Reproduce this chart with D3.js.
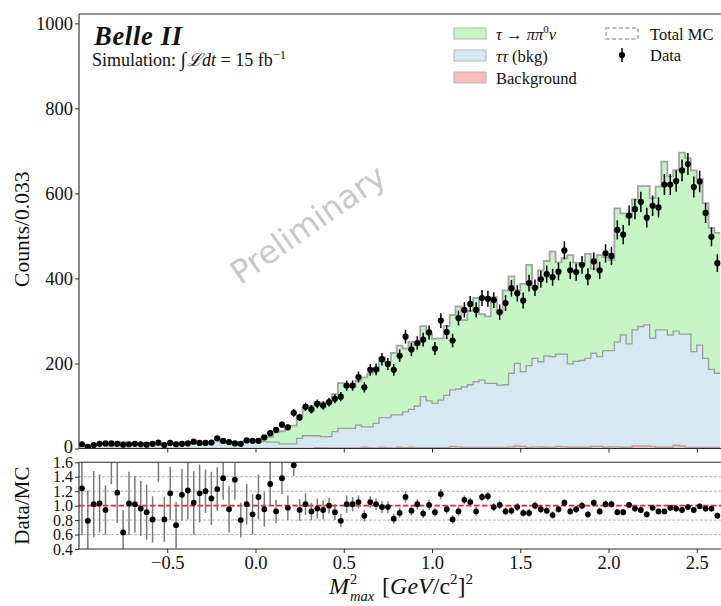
<!DOCTYPE html>
<html><head><meta charset="utf-8">
<script src="https://cdn.jsdelivr.net/npm/d3@7"></script>
<style>
body{margin:0;background:#fff}
svg{display:block}
text{font-family:"Liberation Serif","DejaVu Serif",serif;fill:#111}
</style>
</head><body>
<svg id="c" width="721" height="606"></svg>
<script>
// ---------------- data (one entry per bin of width 1/30, starting at -1.0) ----------------
const binStart = -1.0;
const binWidth = 1 / 30;

const dataCounts = [10,4,8,11,12,12,11,9,10,11, 10,9,11,14,8,13,10,11,12,16,
  13,13,14,24,18,15,12,11,19,18, 18,26,36,44,56,50,84,73,98,92,
  105,101,109,117,122,148,148,168,144,185, 186,210,199,185,218,263,233,248,256,273,
  235,301,274,254,307,326,340,326,354,352, 349,321,342,377,365,348,389,378,398,410,
  403,416,466,419,415,432,404,440,419,459, 453,514,503,548,563,580,543,571,567,621,
  621,629,654,669,615,628,554,498,436];

const signal = [0,0,0,0,0,0,0,0,0,0, 0,0,0,0,0,0,0,0,0,0,
  0,0,0,0,0,0,0,0,3.8,4, 1.7,11.4,12.5,23,29.6,40.3,42.8,54,65.7,70,
  79,79,81.4,88.5,106.5,97.5,97.5,104.5,116.4,125, 123.7,141.5,130.5,146,163,149,159,143,166,158,
  152,145,163,176,194,157,174,197,155,158, 203,169,222,228,172,206,237,166,215,223,
  247,216,226,256,232,225,246,199,239,220, 214,314,286,297,307,330,326,330,337,396,
  373,379,427,414,426,391,365,333,330];

const tautau = [7.5,4.9,7.5,9.8,12.5,5.9,8.5,13.8,9.1,10.7, 9.8,9.4,13.5,6.7,9.6,10.6,13.1,8.7,9.6,14.9,
  10.6,10.3,12,19,12.8,14.8,8.5,13.8,14.5,15.5, 13.5,15.5,14.5,14.5,10.5,10.5,10.5,23.5,29.5,29.5,
  28,26,26.5,38,46,46,46,53.5,48,49, 57.5,69.5,70.5,77.5,76,84,89,98,120,110,
  104,112,123,133,136,142.5,147.5,154.5,158.5,150.5, 150.5,146.5,147.5,173,194,176,192.5,208,200.5,215,
  213.5,217,218,196,202,204,209,219,211,227, 226,247,264,243,273,281,285,254,276,276,
  264,268,263,266.5,225.5,240.5,209.5,183.5,174.5];

const background = [0.5,0.5,0.5,0.5,0.5,0.5,0.5,0.5,0.5,0.5, 0.5,0.5,0.5,0.5,0.5,0.5,0.5,0.5,0.5,0.5,
  0.5,0.5,0.5,0.5,0.5,0.5,0.5,0.5,0.5,0.5, 0.5,0.5,0.5,0.5,0.5,0.5,0.5,0.5,0.5,0.5,
  2,2,1.5,1.5,1.5,1.5,1.5,1.5,3,2, 1.5,3,2,1.5,3,2,3,2,2,2,
  2,2,2,5,4,2.5,2.5,2.5,2.5,2.5, 2.5,2.5,2.5,4,6,5,2.5,4,3.5,3,
  2.5,5,4,3,3,3,3,5,5,3, 4,4,3,3,6,6,6,5,3,3,
  3,8,6,2.5,2.5,2.5,2.5,2.5,2.5];

const ratio = [1.24,0.79,1.02,1.03,0.94,1.85,1.18,0.63,1.03,1.02, 0.96,0.91,0.81,1.9,0.81,1.17,0.73,1.15,1.21,1.04,
  1.17,1.20,1.10,1.23,1.38,0.95,1.36,0.80,1.02,0.88, 1.12,0.95,1.30,0.92,1.38,0.97,1.56,0.94,1.02,0.92,
  0.96,0.94,1.00,0.91,0.79,1.02,1.02,1.05,0.86,1.05, 1.02,0.98,0.98,0.82,0.90,1.12,0.93,1.02,0.89,1.01,
  0.91,1.16,0.95,0.81,0.92,1.08,1.05,0.92,1.12,1.13, 0.98,1.01,0.92,0.93,0.98,0.90,0.90,1.00,0.95,0.93,
  0.87,0.95,1.04,0.92,0.95,1.00,0.88,1.04,0.92,1.02, 1.02,0.91,0.91,1.01,0.96,0.94,0.88,0.97,0.92,0.92,
  0.97,0.96,0.94,0.98,0.94,0.99,0.96,0.96,0.86];

const ratioErr = [0.65,0.42,0.46,0.40,0.34,0.55,0.42,0.31,0.44,0.39, 0.38,0.38,0.32,0.57,0.31,0.37,0.32,0.36,0.40,0.44,
  0.40,0.30,0.37,0.30,0.30,0.32,0.28,0.24,0.28,0.28, 0.31,0.24,0.30,0.16,0.22,0.17,0.15,0.15,0.15,0.12,
  0.14,0.13,0.11,0.11,0.09,0.12,0.10,0.09,0.08,0.08, 0.08,0.08,0.08,0.07,0.07,0.08,0.07,0.07,0.06,0.07,
  0.06,0.07,0.06,0.06,0.06,0.06,0.06,0.06,0.06,0.06, 0.055,0.06,0.055,0.055,0.055,0.055,0.055,0.055,0.05,0.05,
  0.05,0.05,0.05,0.05,0.05,0.05,0.05,0.05,0.05,0.05, 0.05,0.045,0.045,0.045,0.045,0.045,0.045,0.045,0.045,0.04,
  0.04,0.04,0.04,0.04,0.04,0.04,0.045,0.045,0.045];

const mainTicks = [0, 200, 400, 600, 800, 1000];
const ratioTicks = [0.4, 0.6, 0.8, 1.0, 1.2, 1.4, 1.6];
const ratioGrid = [0.6, 0.8, 1.2, 1.4];
const xTicks = [-0.5, 0, 0.5, 1, 1.5, 2, 2.5];
const xTickLabels = ["−0.5", "0.0", "0.5", "1.0", "1.5", "2.0", "2.5"];
const layerKeys = ["background", "tautau", "signal"];
const layerFill = {background: "#f7bdbd", tautau: "#d5e9f1", signal: "#c6f6c6"};
const layerStroke = {background: "#b79a9a", tautau: "#9d9d9d", signal: "#a3a3a3"};

// ---------------- layout ----------------
const W = 721, H = 606;
const L = 79, R = 785;
const mainTop = 14, mainBot = 448.5, ratTop = 462.3, ratBot = 549;
const FS = 18.5, FSR = 16;

const svg = d3.select("#c");
const x = d3.scaleLinear().domain([-1, 3]).range([L, R]);
const y = d3.scaleLinear().domain([0, 1022]).range([mainBot, mainTop]);
const yr = d3.scaleLinear().domain([0.4, 1.6]).range([ratBot, ratTop]);

const defs = svg.append("defs");
defs.append("clipPath").attr("id", "clipMain").append("rect")
  .attr("x", L).attr("y", mainTop).attr("width", W - L).attr("height", mainBot - mainTop);
defs.append("clipPath").attr("id", "clipRat").append("rect")
  .attr("x", L).attr("y", ratTop).attr("width", W - L).attr("height", ratBot - ratTop);

const bins = dataCounts.map((d, i) => ({
  i, lo: binStart + i * binWidth, hi: binStart + (i + 1) * binWidth, c: binStart + (i + 0.5) * binWidth,
  data: d, background: background[i], tautau: tautau[i], signal: signal[i],
  ratio: ratio[i], rerr: ratioErr[i]
}));

// ---------------- main panel ----------------
const gMain = svg.append("g").attr("clip-path", "url(#clipMain)");
const stack = d3.stack().keys(layerKeys)(bins);

stack.forEach(layer => {
  const pts = [];
  layer.forEach(s => {
    pts.push({x: s.data.lo, y0: s[0], y1: s[1]});
    pts.push({x: s.data.hi, y0: s[0], y1: s[1]});
  });
  gMain.append("path").datum(pts)
    .attr("d", d3.area().x(p => x(p.x)).y0(p => y(p.y0)).y1(p => y(p.y1)))
    .attr("fill", layerFill[layer.key]).attr("stroke", "none");
});
stack.forEach(layer => {
  const pts = [];
  layer.forEach(s => {
    pts.push({x: s.data.lo, v: s[1]});
    pts.push({x: s.data.hi, v: s[1]});
  });
  gMain.append("path").datum(pts)
    .attr("d", d3.line().x(p => x(p.x)).y(p => y(p.v)))
    .attr("fill", "none").attr("stroke", layerStroke[layer.key])
    .attr("stroke-width", layer.key === "signal" ? 1.8 : 1.3);
});

// data points
gMain.selectAll("line.err").data(bins).join("line").attr("class", "err")
  .attr("x1", d => x(d.c)).attr("x2", d => x(d.c))
  .attr("y1", d => y(d.data + Math.sqrt(d.data))).attr("y2", d => y(Math.max(0, d.data - Math.sqrt(d.data))))
  .attr("stroke", "#000").attr("stroke-width", 1.5);
gMain.selectAll("circle.pt").data(bins).join("circle").attr("class", "pt")
  .attr("cx", d => x(d.c)).attr("cy", d => y(d.data)).attr("r", 3.1).attr("fill", "#000");

// Preliminary watermark
svg.append("text").attr("transform", "translate(309,226) rotate(-35)")
  .attr("text-anchor", "middle").attr("dominant-baseline", "middle")
  .style("font-family", "'DejaVu Sans',sans-serif").style("font-size", "32px")
  .style("fill", "#c8c8c8").text("Preliminary");

// spines main
const spine = "#2a2a2a";
svg.append("line").attr("x1", L).attr("x2", L).attr("y1", mainTop).attr("y2", mainBot).attr("stroke", spine).attr("stroke-width", 1.1);
svg.append("line").attr("x1", L).attr("x2", W).attr("y1", mainTop).attr("y2", mainTop).attr("stroke", spine).attr("stroke-width", 1.1);
svg.append("line").attr("x1", L).attr("x2", W).attr("y1", mainBot).attr("y2", mainBot).attr("stroke", spine).attr("stroke-width", 1.1);

function styleAxis(g, fs) {
  g.select(".domain").remove();
  g.selectAll(".tick line").attr("stroke", spine).attr("stroke-width", 1);
  g.selectAll(".tick text").style("font-family", "'Liberation Serif',serif").style("font-size", fs + "px").attr("fill", "#222");
}
const axY = svg.append("g").attr("transform", `translate(${L},0)`)
  .call(d3.axisLeft(y).tickValues(mainTicks).tickFormat(d3.format("d")).tickSize(4).tickPadding(2));
styleAxis(axY, FS);
axY.selectAll(".tick text").filter(d => d === 0).attr("dy", "0.2em");
const axXm = svg.append("g").attr("transform", `translate(0,${mainBot})`)
  .call(d3.axisBottom(x).tickValues(xTicks).tickFormat("").tickSize(4));
styleAxis(axXm, FS);

// ---------------- ratio panel ----------------
const gRat = svg.append("g").attr("clip-path", "url(#clipRat)");
gRat.selectAll("line.grid").data(ratioGrid).join("line").attr("class", "grid")
  .attr("x1", L).attr("x2", W).attr("y1", d => yr(d)).attr("y2", d => yr(d))
  .attr("stroke", "#9a9a9a").attr("stroke-width", 0.8).attr("stroke-dasharray", "3,1.6");
gRat.append("line").attr("x1", L).attr("x2", W).attr("y1", yr(1)).attr("y2", yr(1))
  .attr("stroke", "#ff1f1f").attr("stroke-width", 1.7).attr("stroke-dasharray", "5.5,2.4");
gRat.selectAll("line.rerr").data(bins).join("line").attr("class", "rerr")
  .attr("x1", d => x(d.c)).attr("x2", d => x(d.c))
  .attr("y1", d => yr(d.ratio + d.rerr)).attr("y2", d => yr(d.ratio - d.rerr))
  .attr("stroke", "#7a7a7a").attr("stroke-width", 1.5);
gRat.selectAll("circle.rpt").data(bins).join("circle").attr("class", "rpt")
  .attr("cx", d => x(d.c)).attr("cy", d => yr(d.ratio)).attr("r", 2.9).attr("fill", "#000");

svg.append("line").attr("x1", L).attr("x2", L).attr("y1", ratTop).attr("y2", ratBot).attr("stroke", spine).attr("stroke-width", 1.1);
svg.append("line").attr("x1", L).attr("x2", W).attr("y1", ratTop).attr("y2", ratTop).attr("stroke", spine).attr("stroke-width", 1.1);
svg.append("line").attr("x1", L).attr("x2", W).attr("y1", ratBot).attr("y2", ratBot).attr("stroke", spine).attr("stroke-width", 1.1);

const axYr = svg.append("g").attr("transform", `translate(${L},0)`)
  .call(d3.axisLeft(yr).tickValues(ratioTicks).tickFormat(d3.format(".1f")).tickSize(4).tickPadding(2));
styleAxis(axYr, FSR);
const axXr = svg.append("g").attr("transform", `translate(0,${ratBot})`)
  .call(d3.axisBottom(x).tickValues(xTicks).tickFormat((d, i) => xTickLabels[i]).tickSize(4).tickPadding(3));
styleAxis(axXr, FS);

// ---------------- text helpers ----------------
const NB = s => s.replace(/ /g, "\u00A0");
function mathText(parent, x0, yb, parts, anchor) {
  const g = parent.append("g");
  let cx = 0;
  parts.forEach(p => {
    const t = g.append("text").attr("x", cx).attr("y", p.dy || 0)
      .style("font-size", p.size + "px")
      .style("font-style", p.it ? "italic" : "normal")
      .style("font-weight", p.bold ? "bold" : "normal")
      .text(NB(p.t));
    const w = t.node().getComputedTextLength();
    if (!p.noAdvance) cx += w + (p.gap || 0);
  });
  const sx = anchor === "middle" ? x0 - cx / 2 : x0;
  g.attr("transform", `translate(${sx},${yb})`);
  return g;
}

// Belle II title
svg.append("text").attr("x", 94).attr("y", 45)
  .style("font-size", "26.5px").style("font-style", "italic").style("font-weight", "bold")
  .style("letter-spacing", "0.7px").text("Belle II");

mathText(svg, 92, 66, [
  {t: "Simulation: ", size: 18},
  {t: "∫", size: 20, gap: 1},
  {t: "ℒ", size: 18, it: true},
  {t: "dt", size: 18, it: true},
  {t: " = 15 fb", size: 18},
  {t: "−1", size: 12.5, dy: -7.5}
]);

// axis titles
svg.append("text").attr("transform", `translate(29,${(mainTop + mainBot) / 2 - 2}) rotate(-90)`)
  .attr("text-anchor", "middle").style("font-size", "21.5px").text("Counts/0.033");
svg.append("text").attr("transform", `translate(29,${(ratTop + ratBot) / 2}) rotate(-90)`)
  .attr("text-anchor", "middle").style("font-size", "21px").text("Data/MC");

mathText(svg, 401, 594, [
  {t: "M", size: 24, it: true, gap: 1},
  {t: "2", size: 14.5, dy: -10, noAdvance: true},
  {t: "max", size: 14.5, it: true, dy: 6.5, gap: 2},
  {t: " [", size: 24},
  {t: "GeV", size: 24, it: true},
  {t: "/c", size: 24},
  {t: "2", size: 15, dy: -10},
  {t: "]", size: 24},
  {t: "2", size: 15, dy: -10}
], "middle");

// ---------------- legend ----------------
const lg = svg.append("g");
const legendRows = [
  {key: "signal", y: 34, parts: [{t: "τ", it: true}, {t: " → "}, {t: "ππ", it: true}, {t: "0", size: 11, dy: -7}, {t: "ν", it: true}]},
  {key: "tautau", y: 56, parts: [{t: "ττ", it: true}, {t: " (bkg)"}]},
  {key: "background", y: 78, parts: [{t: "Background"}]}
];
legendRows.forEach(r => {
  lg.append("rect").attr("x", 454).attr("y", r.y - 6).attr("width", 32).attr("height", 11)
    .attr("fill", layerFill[r.key]).attr("stroke", "#b5b5b5").attr("stroke-width", 1);
  mathText(lg, 496, r.y + 5.5, r.parts.map(p => Object.assign({size: 16.5}, p)));
});
lg.append("rect").attr("x", 606).attr("y", 28).attr("width", 32).attr("height", 11)
  .attr("fill", "none").attr("stroke", "#a5a5a5").attr("stroke-width", 1.5).attr("stroke-dasharray", "4,2.5");
lg.append("text").attr("x", 650).attr("y", 39.5).style("font-size", "16.5px").text("Total MC");
lg.append("line").attr("x1", 622).attr("x2", 622).attr("y1", 48).attr("y2", 62).attr("stroke", "#000").attr("stroke-width", 1.5);
lg.append("circle").attr("cx", 622).attr("cy", 55).attr("r", 3.1).attr("fill", "#000");
lg.append("text").attr("x", 650).attr("y", 60.5).style("font-size", "16.5px").text("Data");
</script>
</body></html>
